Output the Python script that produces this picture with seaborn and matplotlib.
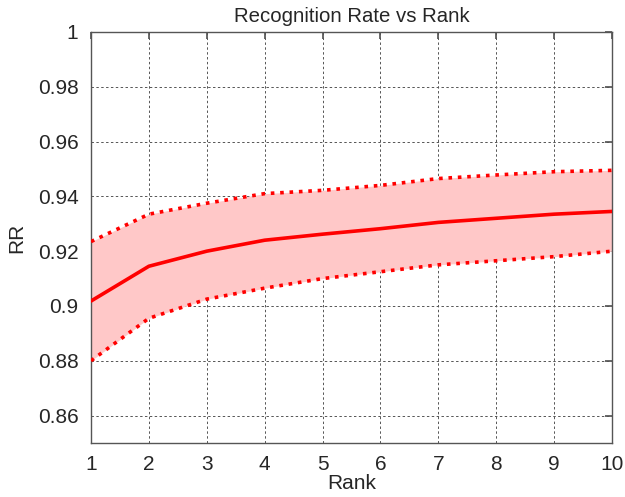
import matplotlib
matplotlib.use("Agg")
import matplotlib.pyplot as plt
import pandas as pd
import seaborn as sns

rank = [1, 2, 3, 4, 5, 6, 7, 8, 9, 10]
rr_mean = [0.9018, 0.9145, 0.9200, 0.9240, 0.9262, 0.9282, 0.9305, 0.9320, 0.9335, 0.9345]
rr_upper = [0.9235, 0.9335, 0.9375, 0.9410, 0.9422, 0.9440, 0.9465, 0.9478, 0.9490, 0.9495]
rr_lower = [0.8800, 0.8955, 0.9025, 0.9065, 0.9100, 0.9125, 0.9150, 0.9165, 0.9180, 0.9200]

df = pd.DataFrame({"Rank": rank, "RR": rr_mean, "upper": rr_upper, "lower": rr_lower})

sns.set_theme(style="white")
plt.rcParams["font.family"] = ["Liberation Sans", "DejaVu Sans"]

fig = plt.figure(figsize=(6.25, 4.97), dpi=100)
ax = fig.add_axes([0.1456, 0.1087, 0.8336, 0.827])

ax.fill_between(df["Rank"], df["lower"], df["upper"], color="#ffc8c8", linewidth=0, zorder=1)
sns.lineplot(data=df, x="Rank", y="RR", color="red", linewidth=2.6, ax=ax, zorder=3)
sns.lineplot(data=df, x="Rank", y="upper", color="red", linewidth=2.6, linestyle=(0, (1, 1.6)), ax=ax, zorder=3)
sns.lineplot(data=df, x="Rank", y="lower", color="red", linewidth=2.6, linestyle=(0, (1, 1.6)), ax=ax, zorder=3)

ax.set_xlim(1, 10)
ax.set_ylim(0.85, 1.0)
ax.set_xticks(rank)
ax.set_xticklabels([str(r) for r in rank])
yticks = [0.86, 0.88, 0.9, 0.92, 0.94, 0.96, 0.98, 1.0]
ax.set_yticks(yticks)
ax.set_yticklabels(["0.86", "0.88", "0.9", "0.92", "0.94", "0.96", "0.98", "1"])
ax.grid(True, color="#555555", linestyle=(0, (2.5, 2.5)), linewidth=0.7, zorder=0)
ax.set_axisbelow(True)
ax.tick_params(direction="in", length=5, labelsize=15, color="#555555", top=True, right=True, pad=9)
for spine in ax.spines.values():
    spine.set_color("#555555")
    spine.set_linewidth(1.0)

ax.set_xlabel("Rank", fontsize=15, labelpad=0)
ax.set_ylabel("RR", fontsize=15, labelpad=8)
ax.set_title("Recognition Rate vs Rank", fontsize=14.7, pad=7)

fig.savefig("out.png", dpi=100)
